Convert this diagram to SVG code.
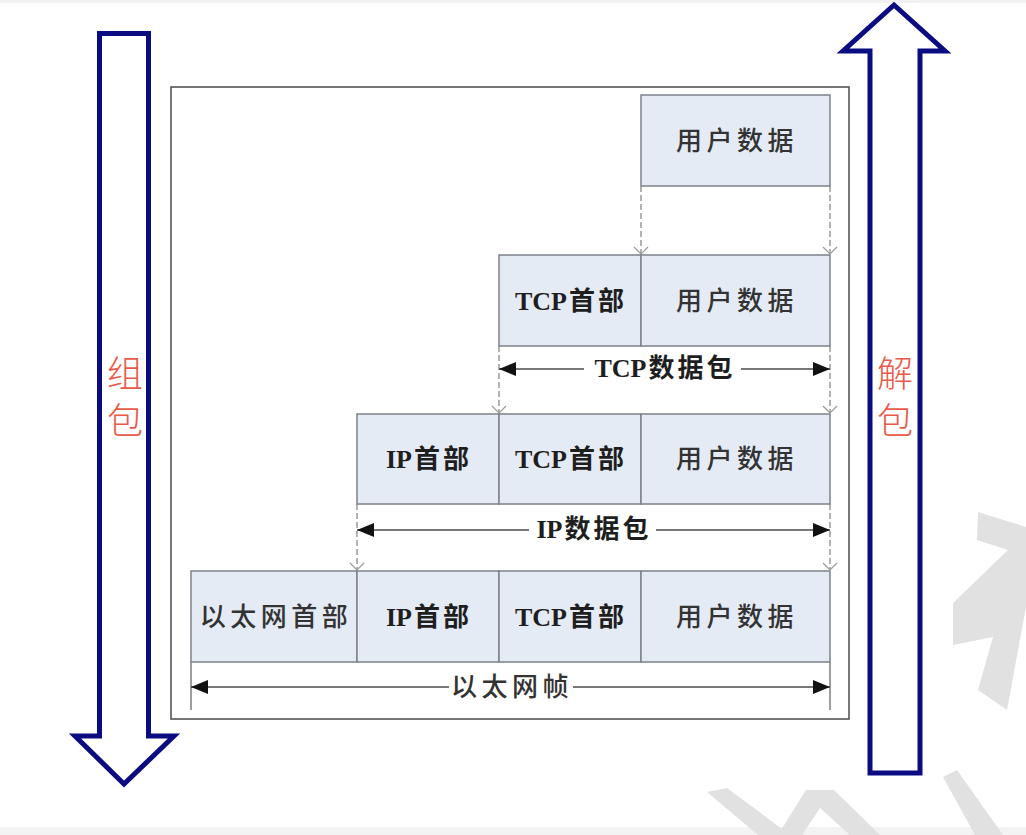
<svg xmlns="http://www.w3.org/2000/svg" width="1026" height="835" viewBox="0 0 1026 835">
  <style>
    .frame { fill: #ffffff; stroke: #4a4a4a; stroke-width: 1.5; }
    .cell { fill: #e5ebf5; stroke: #7d8288; stroke-width: 1.5; }
    .big { fill: #ffffff; stroke: #0b0b82; stroke-width: 5; stroke-linejoin: miter; stroke-miterlimit: 10; }
    .red { font-family: "Noto Sans CJK SC", sans-serif; font-size: 36px; font-weight: 300; fill: #ea5a4a; text-anchor: middle; }
    .reg { font-family: "Noto Sans CJK SC", sans-serif; font-size: 26px; font-weight: 500; fill: #333333; letter-spacing: 4.5px; text-anchor: middle; }
    .bold { font-family: "Noto Sans CJK SC", sans-serif; font-size: 26px; font-weight: bold; fill: #1e1e1e; text-anchor: middle; }
    .lat { font-family: "Liberation Serif", "Noto Sans CJK SC", serif; font-weight: bold; font-size: 26px; letter-spacing: 0px; }
    .cj { letter-spacing: 3px; }
    .dash { fill: none; stroke: #8a8a8a; stroke-width: 1.3; stroke-dasharray: 6 3; marker-end: url(#vhead); }
    .ext { fill: none; stroke: #6a6a6a; stroke-width: 1.3; }
    .dim { fill: none; stroke: #4a4a4a; stroke-width: 1.3; marker-start: url(#fhead); marker-end: url(#fhead); }
    .mask { fill: #ffffff; }
    .wm { fill: #e1e1e1; }
  </style>
  <defs>
    <marker id="fhead" viewBox="0 0 17 14" refX="17" refY="7" markerWidth="17" markerHeight="14" markerUnits="userSpaceOnUse" orient="auto-start-reverse">
      <path d="M0,0 L17,7 L0,14 Z" fill="#111111"/>
    </marker>
    <marker id="vhead" viewBox="0 0 10 16" refX="8" refY="8" markerWidth="10" markerHeight="16" markerUnits="userSpaceOnUse" orient="auto">
      <path d="M1,1 L8,8 L1,15" fill="none" stroke="#9a9a9a" stroke-width="1.2"/>
    </marker>
  </defs>

  <rect x="0" y="0" width="1026" height="835" fill="#ffffff"/>
  <rect x="0" y="0" width="1026" height="3" fill="#f1f1f1"/>
  <rect x="0" y="827" width="1026" height="8" fill="#f3f3f3"/>

  <g id="watermark">
    <polygon class="wm" points="978,512 1026,527 1026,607 1007,710 978,690 993,637 953,645 953,603 1008,550 977,540"/>
    <polygon class="wm" points="707,792 727,788 790,835 758,835"/>
    <polygon class="wm" points="806,790 834,790 880,835 850,835 820,808 802,835 778,835"/>
    <polygon class="wm" points="943,777 957,770 1003,835 975,835"/>
  </g>

  <g id="arrow-pack">
    <path class="big" d="M99.5,33.5 H148.5 V736 H174 L124,784 L75,736 H99.5 Z"/>
    <text class="red" x="125" y="387">组<tspan x="125" dy="47">包</tspan></text>
  </g>

  <g id="arrow-unpack">
    <path class="big" d="M894,5 L945,51 H920 V773 H870 V51 H843 Z"/>
    <text class="red" x="895" y="387">解<tspan x="895" dy="47">包</tspan></text>
  </g>

  <rect id="frame" class="frame" x="171" y="87" width="678" height="632"/>

  <g id="connectors">
    <path class="dash" d="M641,186 V254"/>
    <path class="dash" d="M830,186 V254"/>
    <path class="dash" d="M499,346 V413"/>
    <path class="dash" d="M830,346 V413"/>
    <path class="dash" d="M357,504 V570"/>
    <path class="dash" d="M830,504 V570"/>
    <path class="ext" d="M191,662 V710"/>
    <path class="ext" d="M830,662 V710"/>
    <path class="dim" d="M499,369 H830"/>
    <path class="dim" d="M357,530 H830"/>
    <path class="dim" d="M191,687 H830"/>
  </g>

  <g id="row1-user-data">
    <rect class="cell" x="641" y="95" width="189" height="91"/>
    <text class="reg" x="737" y="150">用户数据</text>
  </g>

  <g id="row2-tcp-segment">
    <rect class="cell" x="499" y="255" width="142" height="91"/>
    <rect class="cell" x="641" y="255" width="189" height="91"/>
    <text class="bold" x="571" y="310"><tspan class="lat">TCP</tspan><tspan class="cj" dx="2">首部</tspan></text>
    <text class="reg" x="737" y="310">用户数据</text>
  </g>

  <g id="label-tcp-packet">
    <rect class="mask" x="584" y="354" width="157" height="28"/>
    <text class="bold" x="665" y="377"><tspan class="lat">TCP</tspan><tspan class="cj" dx="2">数据包</tspan></text>
  </g>

  <g id="row3-ip-packet">
    <rect class="cell" x="357" y="414" width="142" height="90"/>
    <rect class="cell" x="499" y="414" width="142" height="90"/>
    <rect class="cell" x="641" y="414" width="189" height="90"/>
    <text class="bold" x="429" y="468"><tspan class="lat">IP</tspan><tspan class="cj" dx="2">首部</tspan></text>
    <text class="bold" x="571" y="468"><tspan class="lat">TCP</tspan><tspan class="cj" dx="2">首部</tspan></text>
    <text class="reg" x="737" y="468">用户数据</text>
  </g>

  <g id="label-ip-packet">
    <rect class="mask" x="529" y="515" width="127" height="28"/>
    <text class="bold" x="594" y="538"><tspan class="lat">IP</tspan><tspan class="cj" dx="2">数据包</tspan></text>
  </g>

  <g id="row4-ethernet-frame">
    <rect class="cell" x="191" y="571" width="166" height="91"/>
    <rect class="cell" x="357" y="571" width="142" height="91"/>
    <rect class="cell" x="499" y="571" width="142" height="91"/>
    <rect class="cell" x="641" y="571" width="189" height="91"/>
    <text class="reg" x="276" y="626">以太网首部</text>
    <text class="bold" x="429" y="626"><tspan class="lat">IP</tspan><tspan class="cj" dx="2">首部</tspan></text>
    <text class="bold" x="571" y="626"><tspan class="lat">TCP</tspan><tspan class="cj" dx="2">首部</tspan></text>
    <text class="reg" x="737" y="626">用户数据</text>
  </g>

  <g id="label-ethernet-frame">
    <rect class="mask" x="449" y="672" width="124" height="30"/>
    <text class="reg" x="512" y="696">以太网帧</text>
  </g>
</svg>
